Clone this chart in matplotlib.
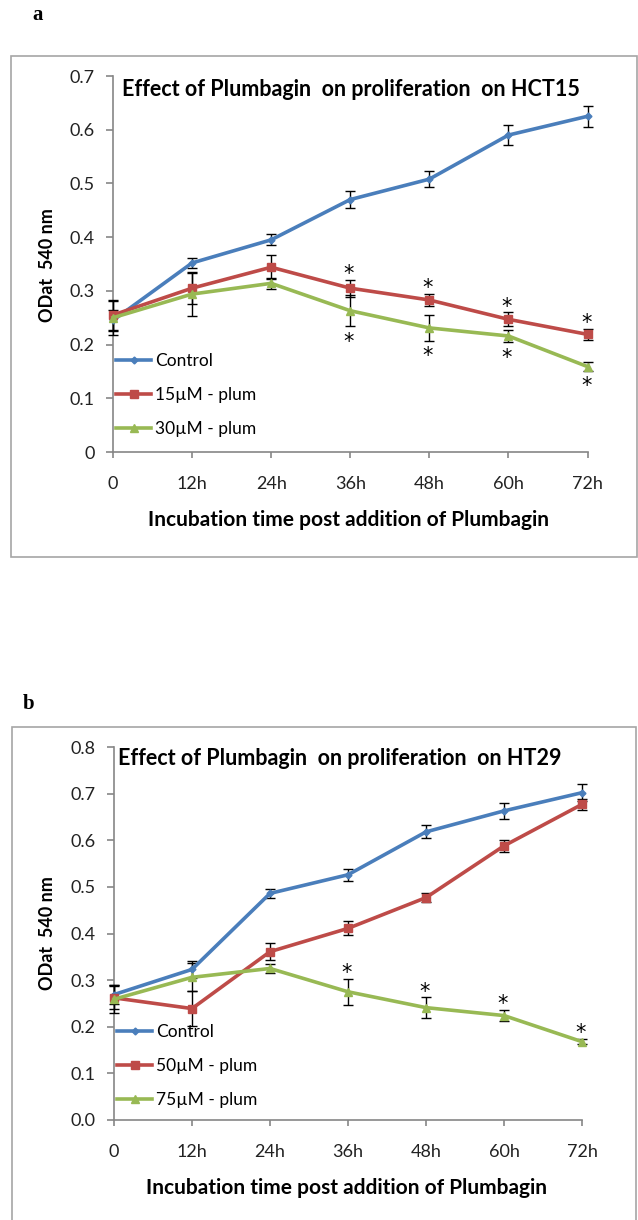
import matplotlib
matplotlib.use("Agg")
from matplotlib import pyplot as plt
from matplotlib.patches import Rectangle
from matplotlib.lines import Line2D

plt.rcParams['font.family'] = ['Lato', 'DejaVu Sans']

times = ["0", "12h", "24h", "36h", "48h", "60h", "72h"]

# panel a: HCT15
a_control = [0.245, 0.352, 0.395, 0.470, 0.508, 0.590, 0.625]
a_control_err = [0.020, 0.010, 0.010, 0.015, 0.015, 0.018, 0.020]
a_low = [0.255, 0.305, 0.344, 0.305, 0.283, 0.247, 0.219]
a_low_err = [0.028, 0.030, 0.022, 0.016, 0.012, 0.013, 0.010]
a_high = [0.250, 0.294, 0.314, 0.263, 0.231, 0.216, 0.159]
a_high_err = [0.032, 0.040, 0.010, 0.029, 0.024, 0.012, 0.008]
a_star_low = [3, 4, 5, 6]
a_star_high = [3, 4, 5, 6]

# panel b: HT29
b_control = [0.269, 0.323, 0.486, 0.526, 0.618, 0.663, 0.702]
b_control_err = [0.020, 0.018, 0.010, 0.013, 0.014, 0.017, 0.018]
b_low = [0.262, 0.239, 0.361, 0.411, 0.477, 0.588, 0.677]
b_low_err = [0.025, 0.038, 0.018, 0.015, 0.010, 0.013, 0.012]
b_high = [0.259, 0.306, 0.325, 0.275, 0.241, 0.224, 0.168]
b_high_err = [0.030, 0.030, 0.010, 0.028, 0.022, 0.012, 0.006]
b_star_high = [3, 4, 5, 6]

BLUE = '#4a7ebb'
RED = '#be4b48'
GREEN = '#98b954'
AXIS = '#868686'

W, H = 638, 1220
fig = plt.figure(figsize=(W / 100, H / 100), dpi=100)


def px_axes(l, t, r, b):
    return fig.add_axes((l / W, 1 - b / H, (r - l) / W, (b - t) / H))


def star(ax, x, y, above):
    # asterisk just beyond the end of the error bar
    if above:
        ax.annotate('*', (x, y), xytext=(-1, -3), textcoords='offset points',
                    ha='center', va='bottom', fontsize=15, fontfamily='DejaVu Sans')
    else:
        ax.annotate('*', (x, y), xytext=(-1, -4), textcoords='offset points',
                    ha='center', va='top', fontsize=15, fontfamily='DejaVu Sans')


def draw_panel(ax, series, ymax, yfmt, title, title_x, title_y, legend_y):
    x = list(range(len(times)))
    handles = []
    for vals, errs, color, marker, ms, label in series:
        ax.errorbar(x, vals, yerr=errs, color=color, lw=2.6, marker=marker, ms=ms,
                    mec=color, mfc=color, ecolor='black', elinewidth=1, capsize=3.5,
                    capthick=1, zorder=3)
        handles.append(Line2D([], [], color=color, lw=2.6, marker=marker, ms=ms,
                              mec=color, mfc=color, label=label))

    ax.set_xlim(0, 6)
    ax.set_ylim(0, ymax)
    ax.set_xticks(x)
    ax.set_xticklabels(times)
    yt = [i / 10 for i in range(int(round(ymax * 10)) + 1)]
    ax.set_yticks(yt)
    ax.set_yticklabels([yfmt(v) for v in yt])
    for s in ['top', 'right']:
        ax.spines[s].set_visible(False)
    for s in ['left', 'bottom']:
        ax.spines[s].set_color(AXIS)
        ax.spines[s].set_linewidth(1.2)
    ax.tick_params(axis='y', direction='out', length=5, width=1.2, color=AXIS, pad=8,
                   labelsize=13, labelcolor='#222222')
    ax.tick_params(axis='x', direction='out', length=4, width=1.2, color=AXIS, pad=13,
                   labelsize=13, labelcolor='#222222')
    ax.patch.set_alpha(0)
    for eb in ax.containers:
        for art in eb.get_children():
            art.set_clip_on(False)

    ax.text(title_x, title_y, title, transform=ax.transAxes, fontsize=15.5, fontweight='bold',
            ha='left', va='center')
    ax.legend(handles=handles, loc='center left', bbox_to_anchor=(0.006, legend_y), frameon=False,
              fontsize=12.5, handlelength=2.05, handletextpad=0.2, labelspacing=1.05,
              borderpad=0, borderaxespad=0)


# frames
fig.patches.append(Rectangle((11 / W, 1 - 557 / H), 626 / W, 501 / H, transform=fig.transFigure,
                             fill=False, edgecolor='#a6a6a6', lw=1.2))
fig.patches.append(Rectangle((12 / W, 1 - 1240 / H), 624 / W, 513 / H, transform=fig.transFigure,
                             fill=False, edgecolor='#a6a6a6', lw=1.2))

fig.text(38 / W, 1 - 15 / H, 'a', fontfamily='Liberation Serif', fontweight='bold',
         fontsize=15, ha='center', va='center')
fig.text(29 / W, 1 - 704 / H, 'b', fontfamily='Liberation Serif', fontweight='bold',
         fontsize=15, ha='center', va='center')

ax1 = px_axes(113, 76, 587.5, 452)
draw_panel(ax1,
           [(a_control, a_control_err, BLUE, 'D', 3.5, 'Control'),
            (a_low, a_low_err, RED, 's', 6, '15µM - plum'),
            (a_high, a_high_err, GREEN, '^', 6, '30µM - plum')],
           0.7, lambda v: '0' if v == 0 else f'{v:.1f}',
           'Effect of Plumbagin  on proliferation  on HCT15', 0.02, 0.963, 0.152)
for idx in a_star_low:
    star(ax1, idx, a_low[idx] + a_low_err[idx], True)
for idx in a_star_high:
    star(ax1, idx, a_high[idx] - a_high_err[idx], False)

ax2 = px_axes(114, 747, 582, 1120)
draw_panel(ax2,
           [(b_control, b_control_err, BLUE, 'D', 3.5, 'Control'),
            (b_low, b_low_err, RED, 's', 6, '50µM - plum'),
            (b_high, b_high_err, GREEN, '^', 6, '75µM - plum')],
           0.8, lambda v: f'{v:.1f}',
           'Effect of Plumbagin  on proliferation  on HT29', 0.009, 0.97, 0.145)
for idx in b_star_high:
    star(ax2, idx, b_high[idx] + b_high_err[idx], True)

for ylab_y, xlab_x, xlab_y in [(265, 349, 520), (933, 347, 1188)]:
    fig.text(47.5 / W, 1 - ylab_y / H, 'ODat  540 nm', rotation=90, fontsize=13,
             fontweight='bold', ha='center', va='center')
    fig.text(xlab_x / W, 1 - xlab_y / H, 'Incubation time post addition of Plumbagin',
             fontsize=15, fontweight='bold', ha='center', va='center')

fig.savefig('out.png', dpi=100, facecolor='white')
